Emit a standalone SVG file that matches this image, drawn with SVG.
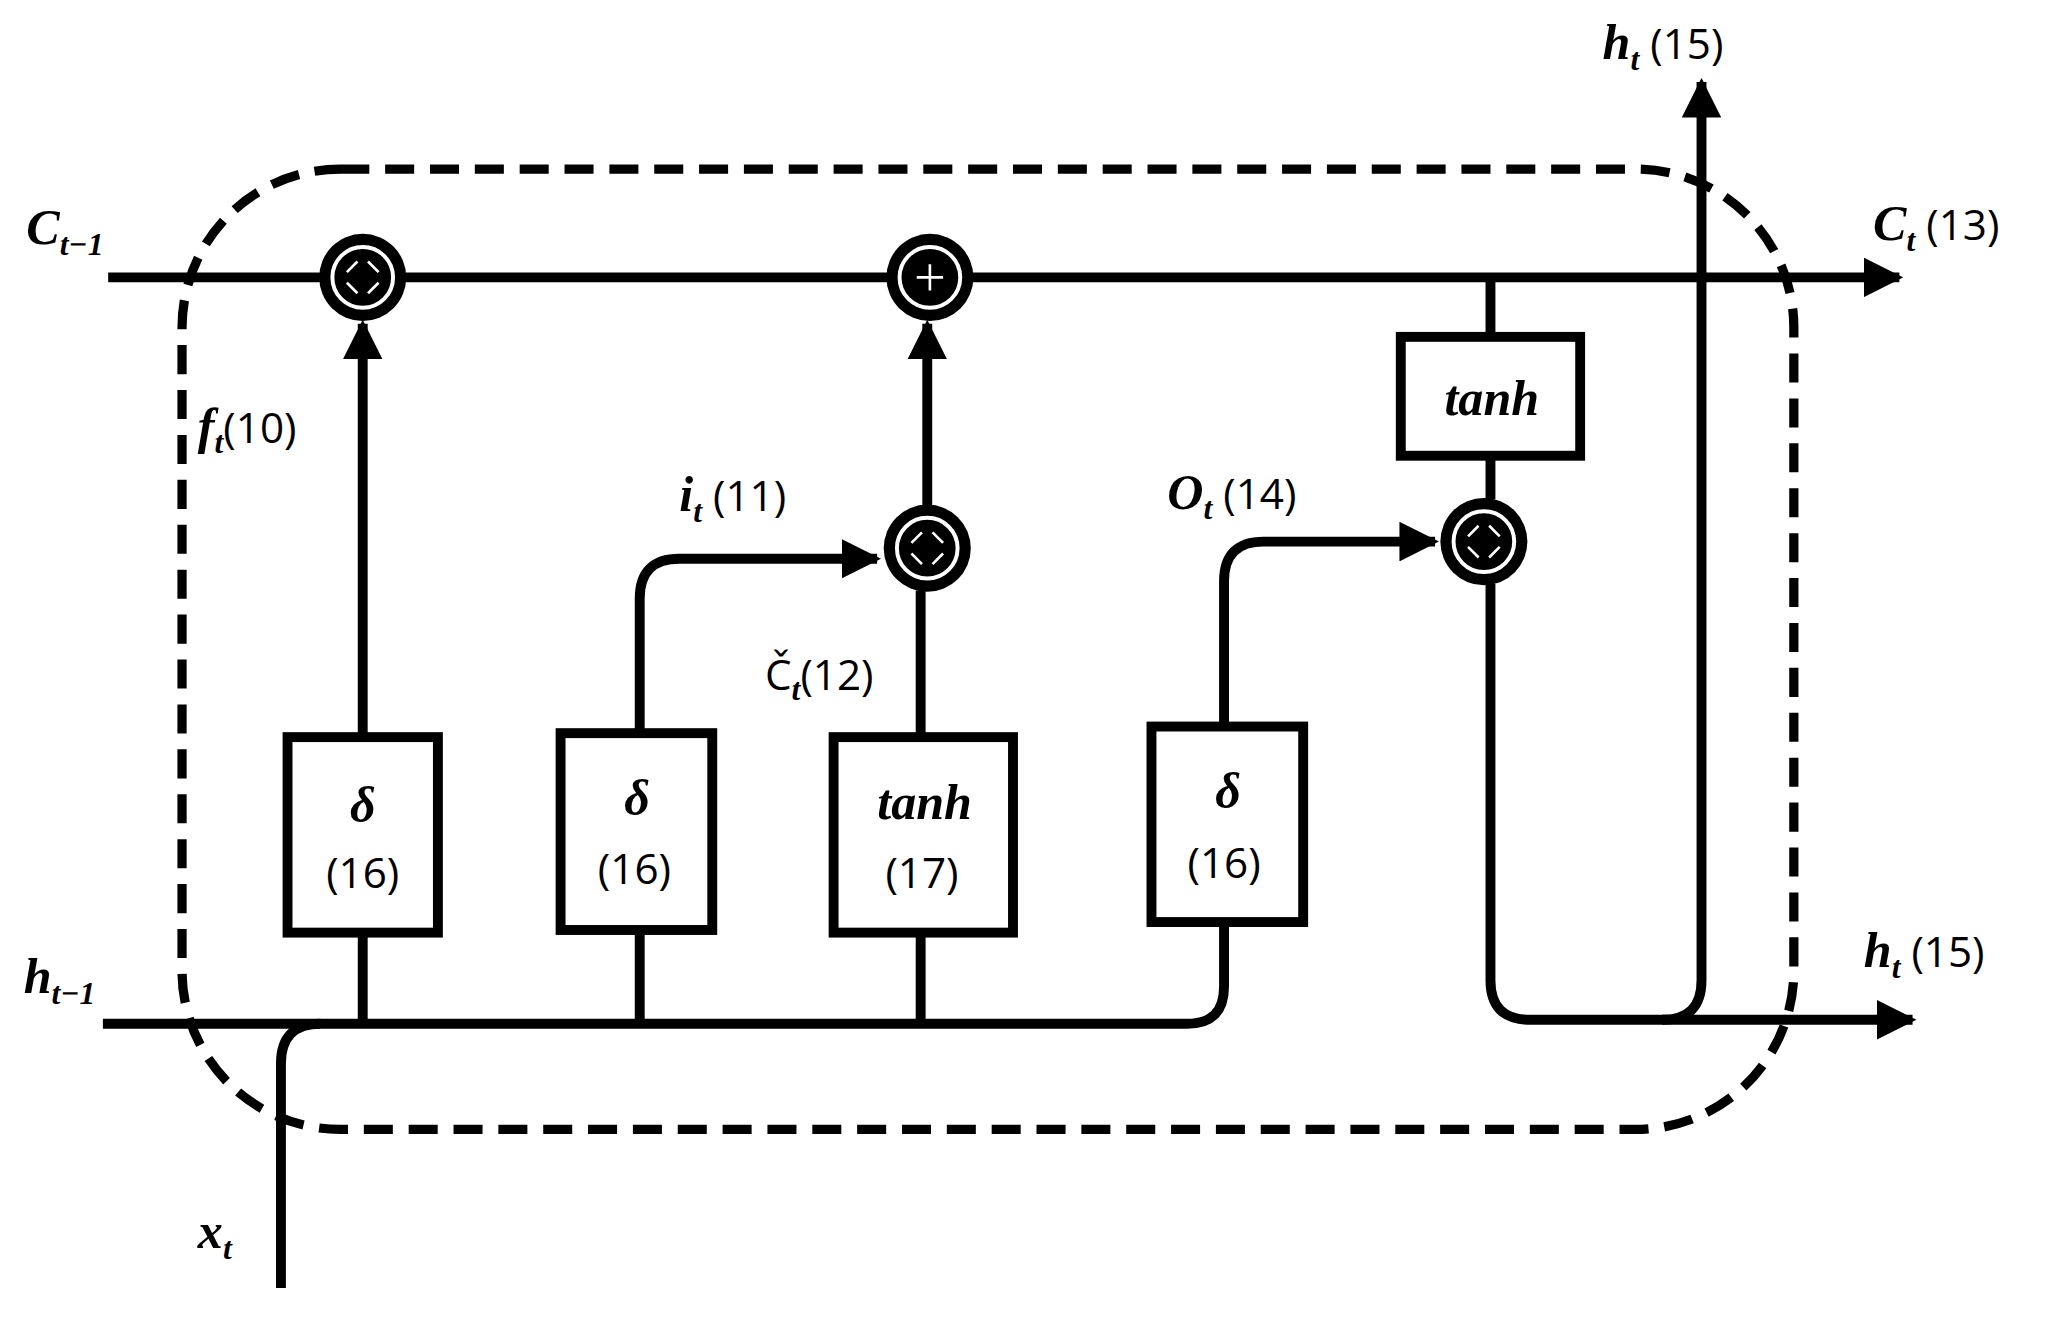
<svg xmlns="http://www.w3.org/2000/svg" width="2068" height="1321" viewBox="0 0 2068 1321">
<style>
.l{fill:none;stroke:#000;stroke-width:7.5;stroke-linejoin:round}
.b{fill:#fff;stroke:#000;stroke-width:7.5}
.v{font-family:"Liberation Serif",serif;font-style:italic;font-weight:bold;font-size:38px}
.s{font-family:"Liberation Serif",serif;font-style:italic;font-weight:bold;font-size:24px}
.n{font-family:"Open Sans","Liberation Sans",sans-serif;font-size:32px}
.x{stroke:#fff;stroke-width:2;fill:none}
</style>
<defs>
<marker id="a" viewBox="0 0 10 10" refX="9" refY="5" markerWidth="4" markerHeight="4" orient="auto" markerUnits="strokeWidth"><path d="M0,0L10,5L0,10z"/></marker>
<g id="op"><circle r="33" fill="#000"/><circle r="23" fill="none" stroke="#fff" stroke-width="3"/></g>
<g id="mul"><use href="#op"/><path class="x" d="M-12,-4L-4,-12M4,-12L12,-4M12,4L4,12M-4,12L-12,4"/></g>
</defs>
<rect width="2068" height="1321" fill="#fff"/>
<g transform="scale(1.319,1.321)">
<rect x="138" y="128" width="1222" height="727" rx="120" fill="none" stroke="#000" stroke-width="7" stroke-dasharray="22,12"/>
<g id="connectors">
<path class="l" d="M82,210H1440" marker-end="url(#a)"/>
<path class="l" d="M78,775H900Q928,775 928,747V698"/>
<path class="l" d="M213,975V805Q213,775 243,775"/>
<path class="l" d="M275,775V706M485,775V704M698,775V706"/>
<path class="l" d="M275,558V245" marker-end="url(#a)"/>
<path class="l" d="M485,555V453Q485,423 515,423H665" marker-end="url(#a)"/>
<path class="l" d="M698,558V447"/>
<path class="l" d="M703,383V245" marker-end="url(#a)"/>
<path class="l" d="M928,550V440Q928,410 958,410H1088" marker-end="url(#a)"/>
<path class="l" d="M1130,210V255M1130,345V378"/>
<path class="l" d="M1130,442V742Q1130,772 1160,772H1450" marker-end="url(#a)"/>
<path class="l" d="M1260,772Q1290,772 1290,742V62" marker-end="url(#a)"/>
</g>
<g id="op1" transform="translate(275,210)"><use href="#mul"/></g>
<g id="op2" transform="translate(705,210)"><use href="#op"/><path d="M-10,0H10M0,-10V10" stroke="#fff" stroke-width="2"/></g>
<g id="op3" transform="translate(703,415)"><use href="#mul"/></g>
<g id="op4" transform="translate(1125,410)"><use href="#mul"/></g>
<g id="g1"><rect class="b" x="218" y="558" width="114" height="148"/><text class="v" x="275" y="622" text-anchor="middle">δ</text><text class="n" x="275" y="672" text-anchor="middle">(16)</text></g>
<g id="g2"><rect class="b" x="425" y="555" width="115" height="149"/><text class="v" x="483" y="617" text-anchor="middle">δ</text><text class="n" x="481" y="669" text-anchor="middle">(16)</text></g>
<g id="g3"><rect class="b" x="632" y="558" width="136" height="148"/><text class="v" x="701" y="620" text-anchor="middle">tanh</text><text class="n" x="699" y="672" text-anchor="middle">(17)</text></g>
<g id="g4"><rect class="b" x="873" y="550" width="115" height="148"/><text class="v" x="931" y="612" text-anchor="middle">δ</text><text class="n" x="928" y="665" text-anchor="middle">(16)</text></g>
<g id="g5"><rect class="b" x="1062" y="255" width="136" height="90"/><text class="v" x="1131" y="314" text-anchor="middle">tanh</text></g>
<g id="labels">
<text x="20" y="185"><tspan class="v">C</tspan><tspan class="s" dy="8">t−1</tspan></text>
<text x="150" y="335"><tspan class="v">f</tspan><tspan class="s" dy="8">t</tspan><tspan class="n" dy="-8">(10)</tspan></text>
<text x="515" y="387"><tspan class="v">i</tspan><tspan class="s" dy="8">t</tspan><tspan class="n" dy="-8"> (11)</tspan></text>
<text x="580" y="522"><tspan class="n">Č</tspan><tspan class="s" dy="8">t</tspan><tspan class="n" dy="-8">(12)</tspan></text>
<text x="885" y="385"><tspan class="v">O</tspan><tspan class="s" dy="8">t</tspan><tspan class="n" dy="-8"> (14)</tspan></text>
<text x="1215" y="45"><tspan class="v">h</tspan><tspan class="s" dy="8">t</tspan><tspan class="n" dy="-8"> (15)</tspan></text>
<text x="1420" y="182"><tspan class="v">C</tspan><tspan class="s" dy="8">t</tspan><tspan class="n" dy="-8"> (13)</tspan></text>
<text x="18" y="752"><tspan class="v">h</tspan><tspan class="s" dy="8">t−1</tspan></text>
<text x="1413" y="732"><tspan class="v">h</tspan><tspan class="s" dy="8">t</tspan><tspan class="n" dy="-8"> (15)</tspan></text>
<text x="150" y="945"><tspan class="v">x</tspan><tspan class="s" dy="8">t</tspan></text>
</g>
</g>
</svg>
